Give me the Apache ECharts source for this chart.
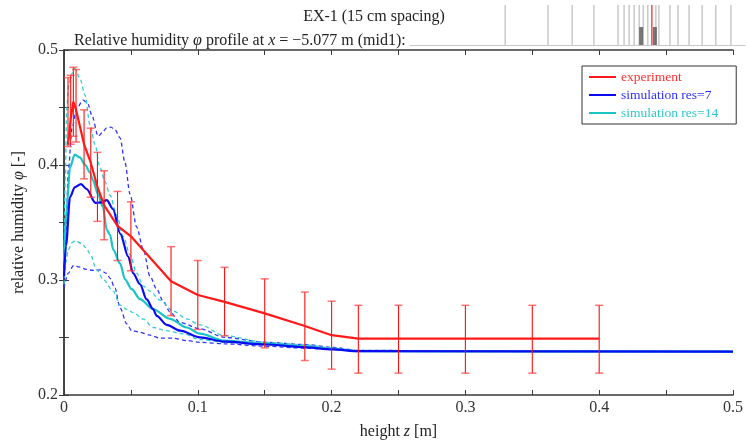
<!DOCTYPE html>
<html><head><meta charset="utf-8">
<script src="https://cdn.jsdelivr.net/npm/echarts@6/dist/echarts.min.js"></script>
<style>html,body{margin:0;padding:0;background:#fff}#c{width:748px;height:445px}</style>
</head><body><div id="c"></div>
<script>
// ---- data ----
const xTickLabels = ['0', '0.1', '0.2', '0.3', '0.4', '0.5'];
const yTickLabels = ['0.2', '0.3', '0.4', '0.5'];
const legendNames = ['experiment', 'simulation res=7', 'simulation res=14'];

const expZ    = [0.003, 0.005, 0.007, 0.009, 0.015, 0.02, 0.025, 0.03, 0.04, 0.05, 0.08, 0.1, 0.12, 0.15, 0.18, 0.2, 0.22, 0.25, 0.3, 0.35, 0.4];
const expMean = [0.418, 0.440, 0.455, 0.448, 0.418, 0.402, 0.381, 0.365, 0.347, 0.338, 0.299, 0.287, 0.281, 0.271, 0.260, 0.252, 0.249, 0.249, 0.249, 0.249, 0.249];
const expLow  = [0.416, 0.418, 0.425, 0.420, 0.388, 0.372, 0.351, 0.335, 0.317, 0.308, 0.269, 0.257, 0.2515, 0.241, 0.230, 0.2225, 0.219, 0.219, 0.219, 0.219, 0.219];
const expHigh = [0.476, 0.478, 0.485, 0.483, 0.448, 0.432, 0.411, 0.395, 0.377, 0.368, 0.329, 0.317, 0.311, 0.301, 0.2895, 0.2815, 0.278, 0.278, 0.278, 0.278, 0.278];

const res7 = [[0,0.303],[0.0015,0.33],[0.0045,0.372],[0.008,0.3806],[0.0127,0.3834],[0.017,0.379],[0.0235,0.367],[0.028,0.3675],[0.032,0.3695],[0.0366,0.3617],[0.042,0.3404],[0.048,0.3204],[0.0516,0.306],[0.0568,0.2963],[0.0618,0.2831],[0.0665,0.2748],[0.0693,0.2688],[0.0768,0.261],[0.0867,0.2559],[0.1016,0.2501],[0.12,0.2464],[0.1507,0.2439],[0.1806,0.2415],[0.2003,0.2396],[0.2205,0.2381],[0.5,0.2378]];
const res7Upper = [[0,0.2946],[0.0015,0.3376],[0.0032,0.3952],[0.006,0.432],[0.0095,0.4494],[0.0144,0.4565],[0.018,0.4528],[0.0207,0.4436],[0.0256,0.425],[0.0284,0.4279],[0.0319,0.4322],[0.0351,0.433],[0.0381,0.4307],[0.0419,0.4236],[0.0456,0.402],[0.0493,0.3748],[0.0543,0.3462],[0.0593,0.3264],[0.0643,0.3032],[0.0693,0.292],[0.074,0.2817],[0.0792,0.2722],[0.0867,0.263],[0.1016,0.2576],[0.12,0.2501],[0.1507,0.2458],[0.1806,0.2439],[0.2003,0.2415],[0.2205,0.2387],[0.5,0.2378]];
const res7Lower = [[0,0.2929],[0.0032,0.306],[0.007,0.3124],[0.012,0.3112],[0.0164,0.3092],[0.0219,0.3083],[0.0269,0.3088],[0.0319,0.3058],[0.0344,0.3015],[0.0381,0.2929],[0.0419,0.2757],[0.0469,0.2619],[0.0506,0.2559],[0.0568,0.2546],[0.0643,0.252],[0.0717,0.2494],[0.0815,0.2494],[0.0917,0.2473],[0.1016,0.2458],[0.12,0.2445],[0.1507,0.2424],[0.1806,0.2407],[0.2003,0.2396],[0.2205,0.2381],[0.5,0.2378]];

const res14 = [[0,0.316],[0.002,0.363],[0.0045,0.398],[0.008,0.409],[0.012,0.4064],[0.0157,0.4003],[0.0194,0.3935],[0.0217,0.3866],[0.0254,0.3746],[0.0291,0.3634],[0.0319,0.3436],[0.0344,0.3393],[0.0368,0.3264],[0.0419,0.3144],[0.0456,0.3006],[0.0506,0.292],[0.0568,0.2834],[0.0665,0.2748],[0.0792,0.2662],[0.0917,0.2587],[0.1016,0.2533],[0.12,0.2473],[0.1507,0.2445],[0.1806,0.2424],[0.2003,0.2402],[0.2205,0.2381],[0.5,0.2378]];
const res14Upper = [[0,0.3075],[0.001,0.389],[0.002,0.4494],[0.0037,0.4708],[0.0058,0.4794],[0.0082,0.4837],[0.012,0.4751],[0.0157,0.4608],[0.0194,0.435],[0.0232,0.4178],[0.0269,0.3978],[0.0306,0.3857],[0.0344,0.3737],[0.0394,0.3565],[0.0443,0.3376],[0.0493,0.3221],[0.0543,0.306],[0.0593,0.2946],[0.0643,0.2903],[0.0717,0.2825],[0.0815,0.2731],[0.0917,0.2662],[0.1016,0.261],[0.12,0.2516],[0.1507,0.2458],[0.1806,0.2436],[0.2003,0.2407],[0.2205,0.2387],[0.5,0.2378]];
const res14Lower = [[0,0.2963],[0.0015,0.316],[0.0032,0.3264],[0.006,0.3324],[0.0082,0.3341],[0.0132,0.3318],[0.0164,0.3281],[0.0194,0.323],[0.0244,0.3089],[0.0294,0.3003],[0.0368,0.2903],[0.0419,0.2782],[0.0469,0.2745],[0.0518,0.2716],[0.0593,0.266],[0.0667,0.2587],[0.0768,0.2559],[0.0892,0.2531],[0.1016,0.2482],[0.12,0.2458],[0.1507,0.2436],[0.1806,0.2415],[0.2003,0.24],[0.2205,0.2383],[0.5,0.2378]];

// sensor-position strip (fraction of strip width)
const sensorGray = [0.284, 0.412, 0.484, 0.549, 0.621, 0.639, 0.654, 0.669, 0.684, 0.696, 0.710, 0.734, 0.743, 0.776, 0.800, 0.833, 0.872, 0.913, 0.958];
const sensorRed = [0.722];
const sensorBlocks = [0.690, 0.731];

// ---- chart ----
const chart = echarts.init(document.getElementById('c'), null, {renderer: 'canvas'});
const SERIF = '"Liberation Serif", "DejaVu Serif", serif';
const red = '#ff1a1a', blue = '#0b0bf2', cyan = '#19c4c4';
const italic = {fontStyle: 'italic', fontFamily: SERIF};

function labelFmt(list) {
  return function (v) {
    const s = (Math.round(v * 100) / 100).toString();
    return list.indexOf(s) >= 0 ? s : '';
  };
}

const axisLineStyle = {color: '#3a3a3a', width: 1.5};

function dashed(data, color, name) {
  return {type: 'line', name: name, data: data, xAxisIndex: 0, yAxisIndex: 0, showSymbol: false, symbol: 'none',
    smooth: 0.3, smoothMonotone: 'x', lineStyle: {color: color, width: 1.3, type: [4, 3]}, z: 2, silent: true};
}

const errData = expZ.map((z, i) => [z, expLow[i], expHigh[i]]);
const meanData = expZ.map((z, i) => [z, expMean[i]]);

chart.setOption({
  animation: false,
  backgroundColor: '#fff',
  title: [
    {text: 'EX-1 (15 cm spacing)', left: 'center', top: 4,
      textStyle: {fontFamily: SERIF, fontWeight: 'normal', fontSize: 16, color: '#222'}},
    {text: 'Relative humidity {i|φ} profile at {i|x} = −5.077 m (mid1):', left: 69, top: 28,
      textStyle: {fontFamily: SERIF, fontWeight: 'normal', fontSize: 16, color: '#222',
        rich: {i: Object.assign({fontSize: 16, color: '#222'}, italic)}}}
  ],
  legend: {
    data: legendNames.map((n, i) => ({name: n, textStyle: {color: [ '#ff3030', '#3030ff', '#30c8c8'][i]}})),
    orient: 'vertical', left: 582, top: 66,
    icon: 'rect', itemWidth: 27, itemHeight: 2, itemGap: 4,
    padding: [4, 18, 4, 7],
    borderColor: '#333', borderWidth: 1, backgroundColor: '#fff',
    textStyle: {fontFamily: SERIF, fontSize: 13.5}
  },
  grid: [
    {left: 64, right: 15, top: 50, bottom: 45, show: false},
    {left: 410, right: 3, top: 5, height: 40, show: false}
  ],
  xAxis: [
    {type: 'value', gridIndex: 0, min: 0, max: 0.5, interval: 0.05, position: 'bottom',
      name: 'height {i|z} [m]', nameLocation: 'middle', nameGap: 29,
      nameTextStyle: {fontFamily: SERIF, fontSize: 16, color: '#222', rich: {i: Object.assign({fontSize: 16, color: '#222'}, italic)}},
      axisLine: {show: true, lineStyle: axisLineStyle},
      axisTick: {show: true, inside: true, length: 5, lineStyle: {color: '#3a3a3a'}},
      axisLabel: {formatter: labelFmt(xTickLabels), fontFamily: SERIF, fontSize: 16, color: '#333', margin: 5, hideOverlap: false},
      splitLine: {show: false}},
    {type: 'value', gridIndex: 0, min: 0, max: 0.5, interval: 0.05, position: 'top',
      axisLine: {show: true, lineStyle: axisLineStyle},
      axisTick: {show: true, inside: true, length: 5, lineStyle: {color: '#3a3a3a'}},
      axisLabel: {show: false}, splitLine: {show: false}},
    {type: 'value', gridIndex: 1, min: 0, max: 1, show: true,
      axisLine: {show: true, onZero: false, lineStyle: {color: '#c8c8c8', width: 1}},
      axisTick: {show: false}, axisLabel: {show: false}, splitLine: {show: false}}
  ],
  yAxis: [
    {type: 'value', gridIndex: 0, min: 0.2, max: 0.5, interval: 0.05, position: 'left',
      name: 'relative humidity {i|φ} [-]', nameLocation: 'middle', nameGap: 33,
      nameTextStyle: {fontFamily: SERIF, fontSize: 16, color: '#222', rich: {i: Object.assign({fontSize: 16, color: '#222'}, italic)}},
      axisLine: {show: true, lineStyle: axisLineStyle},
      axisTick: {show: true, inside: true, length: 5, lineStyle: {color: '#3a3a3a'}},
      axisLabel: {formatter: labelFmt(yTickLabels), fontFamily: SERIF, fontSize: 16, color: '#333', margin: 6},
      splitLine: {show: false}},
    {type: 'value', gridIndex: 0, min: 0.2, max: 0.5, interval: 0.05, position: 'right',
      axisLine: {show: true, lineStyle: axisLineStyle},
      axisTick: {show: true, inside: true, length: 5, lineStyle: {color: '#3a3a3a'}},
      axisLabel: {show: false}, splitLine: {show: false}},
    {type: 'value', gridIndex: 1, min: 0, max: 1, show: false}
  ],
  series: [
    dashed(res7Upper, '#3232ff'),
    dashed(res7Lower, '#3232ff'),
    dashed(res14Upper, '#33cccc'),
    dashed(res14Lower, '#33cccc'),
    {type: 'line', name: legendNames[2], data: res14, showSymbol: false, symbol: 'none', smooth: 0.3, smoothMonotone: 'x',
      lineStyle: {color: cyan, width: 2.2}, itemStyle: {color: cyan}, z: 3},
    {type: 'line', name: legendNames[1], data: res7, showSymbol: false, symbol: 'none', smooth: 0.3, smoothMonotone: 'x',
      lineStyle: {color: blue, width: 2.2}, itemStyle: {color: blue}, z: 4},
    {type: 'custom', name: 'errorbars', data: errData, z: 5, silent: true,
      renderItem: function (params, api) {
        const x = api.value(0);
        const pLo = api.coord([x, api.value(1)]);
        const pHi = api.coord([x, api.value(2)]);
        const hw = 4;
        const capStyle = {stroke: 'rgba(255,70,70,0.75)', lineWidth: 1.5};
        return {type: 'group', children: [
          {type: 'line', shape: {x1: pLo[0], y1: pLo[1], x2: pHi[0], y2: pHi[1]}, style: {stroke: '#ff1010', lineWidth: 1.1}},
          {type: 'line', shape: {x1: pHi[0] - hw, y1: pHi[1], x2: pHi[0] + hw, y2: pHi[1]}, style: capStyle},
          {type: 'line', shape: {x1: pLo[0] - hw, y1: pLo[1], x2: pLo[0] + hw, y2: pLo[1]}, style: capStyle}
        ]};
      }},
    {type: 'line', name: legendNames[0], data: meanData, showSymbol: false, symbol: 'none',
      lineStyle: {color: red, width: 2.2}, itemStyle: {color: red}, z: 6},
    {type: 'scatter', xAxisIndex: 2, yAxisIndex: 2, data: sensorGray.map(v => [v, 0.5]),
      symbol: 'rect', symbolSize: [1, 40], itemStyle: {color: '#9a9a9a'}, silent: true},
    {type: 'scatter', xAxisIndex: 2, yAxisIndex: 2, data: sensorBlocks.map(v => [v, 0.225]),
      symbol: 'rect', symbolSize: [4, 18], itemStyle: {color: '#555'}, silent: true},
    {type: 'scatter', xAxisIndex: 2, yAxisIndex: 2, data: sensorRed.map(v => [v, 0.5]),
      symbol: 'rect', symbolSize: [1.3, 40], itemStyle: {color: '#e00000'}, silent: true, z: 3}
  ]
});
</script>
</body></html>
